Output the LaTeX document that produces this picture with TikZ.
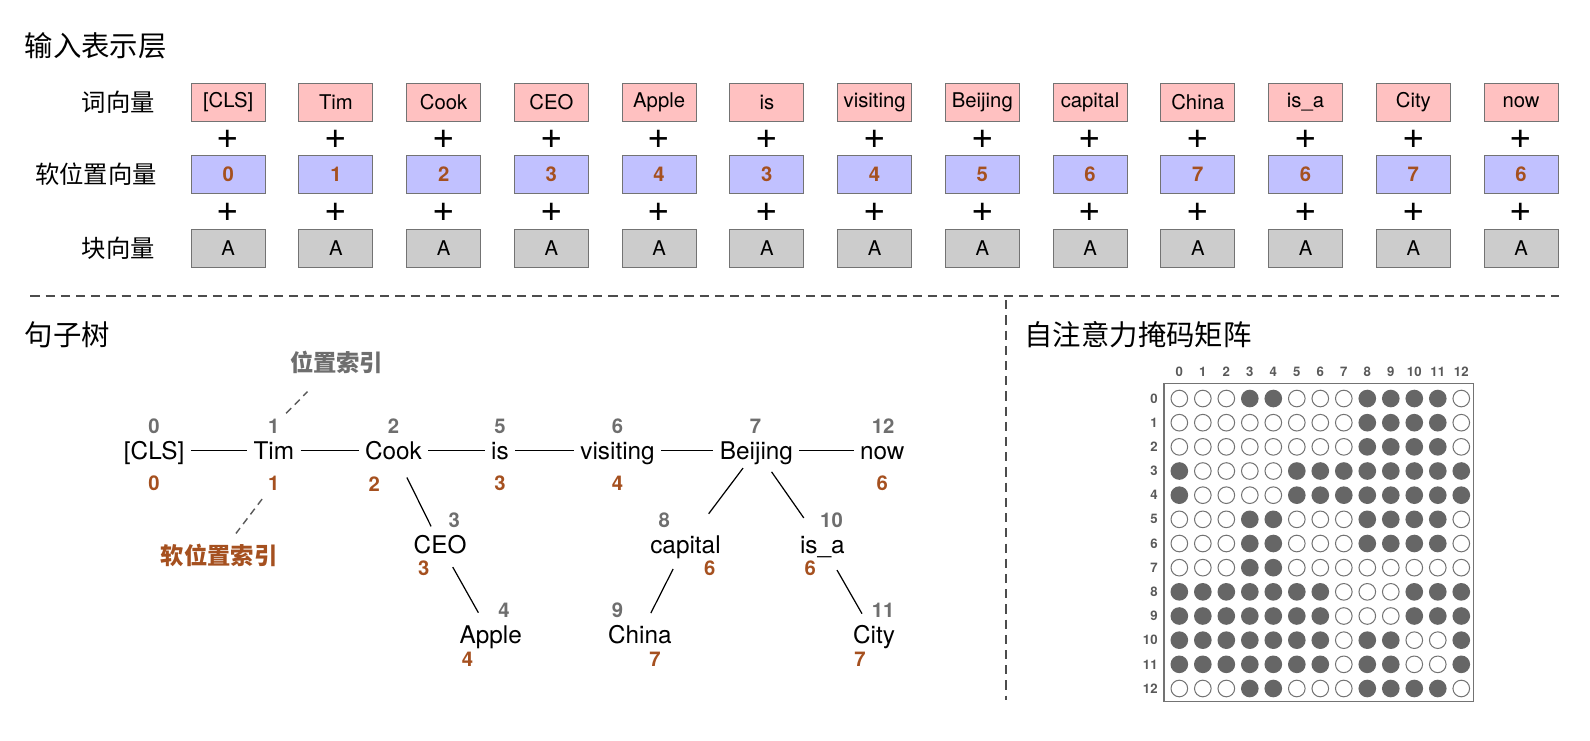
\documentclass[tikz,border=0pt]{standalone}
\usepackage{fontspec}
\setmainfont{TeX Gyre Heros}
\newfontfamily\cjk{Noto Sans CJK SC}

\definecolor{wordpink}{HTML}{FFC1C1}
\definecolor{posblue}{HTML}{C1C1FF}
\definecolor{seggray}{HTML}{CCCCCC}
\definecolor{softidx}{HTML}{A5501F}
\definecolor{hardidx}{HTML}{6E6E6E}
\definecolor{maskdot}{HTML}{666666}

\begin{document}
\begin{tikzpicture}[x=0.5pt,y=-0.5pt,
  embbox/.style={draw=black!55,line width=0.5pt,minimum width=36.5pt,minimum height=19pt,inner sep=0pt,font=\fontsize{10}{10}\selectfont},
  wordbox/.style={embbox,fill=wordpink},
  posbox/.style={embbox,fill=posblue,text=softidx,font=\fontsize{10}{10}\selectfont\bfseries},
  segbox/.style={embbox,fill=seggray},
  plusnode/.style={font=\fontsize{19}{19}\selectfont,inner sep=0pt},
  rowlabel/.style={anchor=east,inner sep=0pt,font=\cjk\fontsize{12}{12}\selectfont},
  sectitle/.style={anchor=west,inner sep=0pt,font=\cjk\fontsize{14}{14}\selectfont},
  tword/.style={font=\fontsize{12}{12}\selectfont,text height=9pt,text depth=0pt,inner xsep=3pt,inner ysep=0pt},
  tidx/.style={font=\fontsize{10}{10}\selectfont\bfseries,text=hardidx,inner sep=0pt},
  tsoft/.style={font=\fontsize{10}{10}\selectfont\bfseries,text=softidx,inner sep=0pt},
  notelabel/.style={inner sep=0pt,font=\cjk\fontsize{11.5}{11.5}\selectfont\bfseries},
  treeline/.style={line width=0.6pt},
  sepline/.style={black!70,line width=0.7pt,dash pattern=on 4.5pt off 3pt},
  noteline/.style={black!65,line width=0.7pt,dash pattern=on 3.5pt off 2.5pt},
  mask0/.style={circle,draw=black!55,fill=white,line width=0.5pt,minimum size=8.2pt,inner sep=0pt},
  mask1/.style={circle,fill=maskdot,minimum size=8.7pt,inner sep=0pt},
  masknum/.style={font=\fontsize{6.5}{6.5}\selectfont\bfseries,text=black!65,inner sep=0pt}]
  \useasboundingbox (0,0) rectangle (1568,730);

  % input representation layer
  \node[sectitle] (title1) at (24,45) {输入表示层};
  \node[rowlabel] (lword) at (153,101) {词向量};
  \node[rowlabel] (lpos) at (155,172) {软位置向量};
  \node[rowlabel] (lseg) at (153,245) {块向量};

  \foreach \w/\p [count=\i from 0] in {{[CLS]}/0,Tim/1,Cook/2,CEO/3,Apple/4,is/3,visiting/4,Beijing/5,capital/6,China/7,is\_a/6,City/7,now/6}{
    \node[wordbox] (w\i) at ({225+106.25*\i},101) {\w};
    \node[plusnode] (pa\i) at ({225+106.25*\i},137) {+};
    \node[posbox] (p\i) at ({225+106.25*\i},172) {\p};
    \node[plusnode] (pb\i) at ({225+106.25*\i},209) {+};
    \node[segbox] (s\i) at ({225+106.25*\i},245) {A};
  }

  % separators
  \draw[sepline] (30,292) -- (1537,292);
  \draw[sepline] (992,296) -- (992,690);

  % sentence tree
  \node[sectitle] (title2) at (24,330) {句子树};
  \foreach \n/\x/\y/\w/\g/\gx in {cls/152/444/{[CLS]}/0/152, tim/270/444/Tim/1/270,
      cook/388/444/Cook/2/388, is/493/444/is/5/493, vis/609/444/visiting/6/609,
      bj/746/444/Beijing/7/745, now/870/444/now/12/871,
      ceo/434/537/CEO/3/448, cap/676/537/capital/8/655, isa/811/537/is\_a/10/820,
      apple/484/626/Apple/4/497, china/631/626/China/9/609, city/862/626/City/11/871}{
    \node[tword] (\n) at (\x,\y) {\w};
    \node[tidx] (\n-g) at (\gx,\y-24) {\g};
  }
  \foreach \n/\x/\y/\s in {cls/152/477/0, tim/270/477/1, cook/369/477/2, is/493/477/3,
      vis/609/477/4, now/870/477/6, ceo/418/560/3, cap/700/560/6, isa/799/560/6,
      apple/461/650/4, china/646/650/7, city/848/650/7}
    \node[tsoft] (\n-s) at (\x,\y) {\s};

  \foreach \a/\b in {cls/tim,tim/cook,cook/is,is/vis,vis/bj,bj/now}
    \draw[treeline] (\a) -- (\b);
  \foreach \a/\b/\s/\e in {cook/ceo/15pt/10pt, ceo/apple/12.75pt/12.5pt, bj/cap/11pt/19pt,
      bj/isa/13pt/16pt, cap/china/13.5pt/12pt, isa/city/14.5pt/12pt}
    \draw[treeline,shorten <=\s,shorten >=\e] (\a.center) -- (\b.center);

  % index notes
  \node[notelabel,text=hardidx] (posnote) at (332,357) {位置索引};
  \node[notelabel,text=softidx] (softnote) at (216,548) {软位置索引};
  \draw[noteline,shorten <=8.75pt,shorten >=20.5pt] (tim-g.center) -- (posnote.center);
  \draw[noteline,shorten <=9.5pt,shorten >=13.8pt] (tim-s.center) -- (softnote.center);

  % self-attention mask matrix
  \node[sectitle] (title3) at (1010,330) {自注意力掩码矩阵};
  \draw[black!55,line width=0.75pt] (1148,378) rectangle (1453,692);
  \foreach \j in {0,...,12}
    \node[masknum] (mc\j) at ({1163+23.17*\j},367) {\j};
  \foreach \i in {0,...,12}
    \node[masknum,anchor=east] (mr\i) at (1142,{393+23.83*\i}) {\i};
  \foreach \row [count=\i from 0] in {
      {0,0,0,1,1,0,0,0,1,1,1,1,0}, {0,0,0,0,0,0,0,0,1,1,1,1,0},
      {0,0,0,0,0,0,0,0,1,1,1,1,0}, {1,0,0,0,0,1,1,1,1,1,1,1,1},
      {1,0,0,0,0,1,1,1,1,1,1,1,1}, {0,0,0,1,1,0,0,0,1,1,1,1,0},
      {0,0,0,1,1,0,0,0,1,1,1,1,0}, {0,0,0,1,1,0,0,0,0,0,0,0,0},
      {1,1,1,1,1,1,1,0,0,0,1,1,1}, {1,1,1,1,1,1,1,0,0,0,1,1,1},
      {1,1,1,1,1,1,1,0,1,1,0,0,1}, {1,1,1,1,1,1,1,0,1,1,0,0,1},
      {0,0,0,1,1,0,0,0,1,1,1,1,0}}
    \foreach \v [count=\j from 0] in \row {
      \ifnum\v=1
        \node[mask1] (m\i-\j) at ({1163+23.17*\j},{393+23.83*\i}) {};
      \else
        \node[mask0] (m\i-\j) at ({1163+23.17*\j},{393+23.83*\i}) {};
      \fi
    }
\end{tikzpicture}
\end{document}
